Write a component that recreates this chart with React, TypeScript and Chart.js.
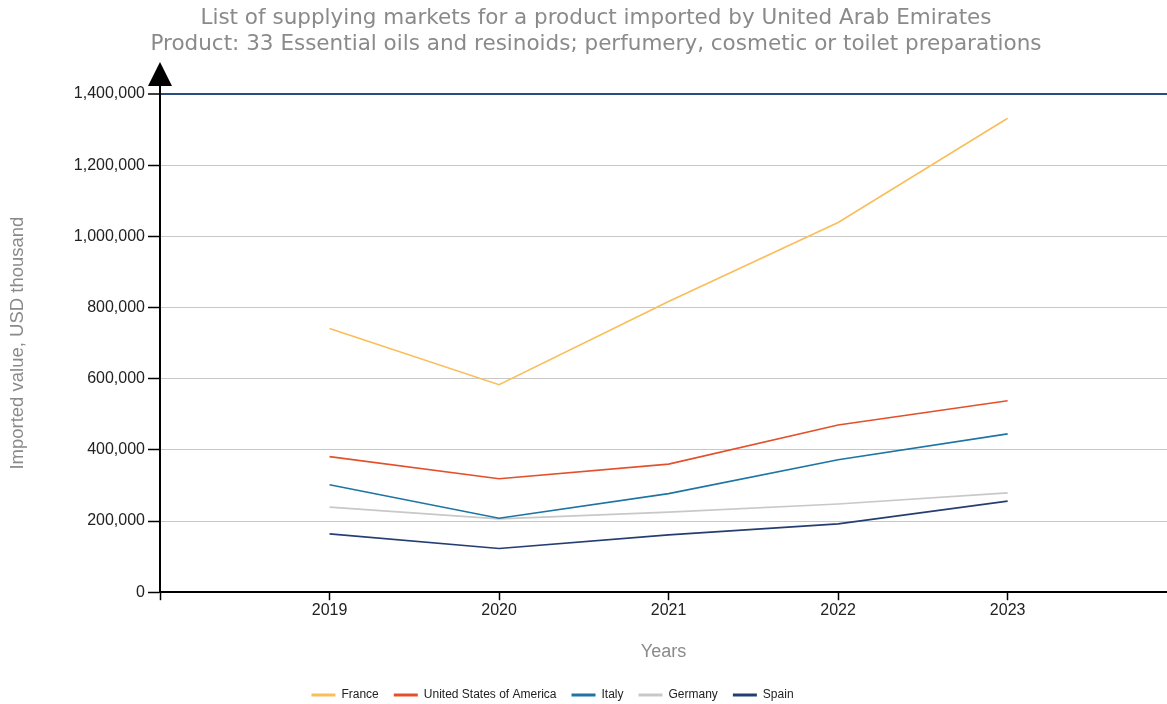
import React, { useEffect, useRef } from 'react';
import { Chart, registerables } from 'chart.js';

Chart.register(...registerables);

const titleLines = [
  'List of supplying markets for a product imported by United Arab Emirates',
  'Product: 33 Essential oils and resinoids; perfumery, cosmetic or toilet preparations',
];
const yAxisTitle = 'Imported value, USD thousand';
const xAxisTitle = 'Years';

const years = [2019, 2020, 2021, 2022, 2023];
const seriesNames = ['France', 'United States of America', 'Italy', 'Germany', 'Spain'];
const france = [741000, 583000, 817000, 1039000, 1332000];
const usa = [381000, 319000, 360000, 470000, 538000];
const italy = [302000, 208000, 277000, 372000, 445000];
const germany = [239000, 206000, 225000, 248000, 279000];
const spain = [164000, 123000, 161000, 192000, 256000];
const seriesValues = [france, usa, italy, germany, spain];
const seriesColors = ['#fbbd5a', '#e4502a', '#1d75a3', '#c8c8c8', '#253e72'];

const yMin = 0;
const yMax = 1400000;
const yStep = 200000;
const xMin = 2018;
const xMax = 2023.94;

const arrowPlugin = {
  id: 'yArrow',
  afterDraw(chart: any) {
    const { ctx, chartArea } = chart;
    const x = chartArea.left;
    const top = chartArea.top;
    ctx.save();
    ctx.strokeStyle = '#000';
    ctx.lineWidth = 2;
    ctx.beginPath();
    ctx.moveTo(x, top);
    ctx.lineTo(x, top - 10);
    ctx.stroke();
    ctx.fillStyle = '#000';
    ctx.beginPath();
    ctx.moveTo(x, top - 32);
    ctx.lineTo(x - 12, top - 8);
    ctx.lineTo(x + 12, top - 8);
    ctx.closePath();
    ctx.fill();
    ctx.restore();
  },
};

const boxShiftPlugin = {
  id: 'boxShift',
  afterLayout(chart: any) {
    const lg = chart.legend;
    if (lg) {
      lg.right -= 62;
      lg.top += 7;
      lg.bottom += 7;
    }
    const tt = chart.titleBlock;
    if (tt) {
      tt.left += 25;
    }
  },
};

export default function App() {
  const canvasRef = useRef<HTMLCanvasElement | null>(null);

  useEffect(() => {
    if (!canvasRef.current) return;
    const datasets = seriesNames.map((name, i) => ({
      label: name,
      data: years.map((yr, j) => ({ x: yr, y: seriesValues[i][j] })),
      borderColor: seriesColors[i],
      backgroundColor: seriesColors[i],
      borderWidth: 1.6,
      pointRadius: 0,
      pointHoverRadius: 0,
      tension: 0,
      fill: false,
    }));

    const chart = new Chart(canvasRef.current, {
      type: 'line',
      data: { datasets },
      plugins: [arrowPlugin, boxShiftPlugin],
      options: {
        responsive: false,
        animation: false,
        devicePixelRatio: 1,
        layout: { padding: { left: 0, right: 0, top: 0, bottom: 0 } },
        plugins: {
          title: {
            display: true,
            text: titleLines,
            color: '#8a8a8a',
            font: { family: '"DejaVu Sans", Verdana, sans-serif', size: 21.5, weight: 'normal', lineHeight: 1.21 },
            padding: { top: 5, bottom: 37 },
          },
          legend: {
            display: true,
            position: 'bottom',
            labels: {
              color: '#222',
              font: { family: '"Liberation Sans", Arial, sans-serif', size: 12 },
              boxWidth: 24,
              boxHeight: 3,
              padding: 15,
              generateLabels: (chart: any) =>
                chart.data.datasets.map((ds: any, i: number) => ({
                  text: ds.label,
                  fillStyle: ds.borderColor,
                  strokeStyle: ds.borderColor,
                  lineWidth: 0,
                  hidden: false,
                  datasetIndex: i,
                  fontColor: '#222',
                })),
            },
          },
          tooltip: { enabled: false },
        },
        scales: {
          x: {
            type: 'linear',
            min: xMin,
            max: xMax,
            border: { display: true, color: '#000', width: 2 },
            grid: {
              display: true,
              drawOnChartArea: false,
              drawTicks: true,
              tickLength: 8,
              tickColor: '#000',
              tickWidth: 1.5,
            },
            ticks: {
              stepSize: 1,
              includeBounds: false,
              padding: 1,
              color: '#222',
              font: { family: '"Liberation Sans", Arial, sans-serif', size: 16 },
              maxRotation: 0,
              callback: (v: any) => (years.includes(Number(v)) ? String(v) : ''),
            },
            title: {
              display: true,
              text: xAxisTitle,
              color: '#8a8a8a',
              font: { family: '"Liberation Sans", Arial, sans-serif', size: 18 },
              padding: { top: 20, bottom: 4 },
            },
          },
          y: {
            type: 'linear',
            min: yMin,
            max: yMax,
            border: { display: true, color: '#000', width: 2 },
            afterFit: (scale: any) => {
              scale.width = 160;
            },
            grid: {
              display: true,
              drawOnChartArea: true,
              drawTicks: true,
              tickLength: 12,
              tickColor: '#000',
              tickWidth: 1.5,
              color: (ctx: any) => (ctx.tick && ctx.tick.value === yMax ? '#2b4a82' : '#c8c8c8'),
              lineWidth: (ctx: any) => (ctx.tick && ctx.tick.value === yMax ? 2 : 1),
            },
            ticks: {
              stepSize: yStep,
              padding: 3,
              color: '#222',
              font: { family: '"Liberation Sans", Arial, sans-serif', size: 16 },
              callback: (v: any) => Number(v).toLocaleString('en-US'),
            },
            title: {
              display: true,
              text: yAxisTitle,
              color: '#8a8a8a',
              font: { family: '"Liberation Sans", Arial, sans-serif', size: 18.5 },
              padding: { top: 7, bottom: 0 },
            },
          },
        },
      },
    });
    return () => chart.destroy();
  }, []);

  return (
    <div style={{ position: 'fixed', left: 0, top: 0, width: 1167, height: 704, background: '#fff' }}>
      <canvas ref={canvasRef} width={1167} height={704} style={{ display: 'block' }} />
    </div>
  );
}
